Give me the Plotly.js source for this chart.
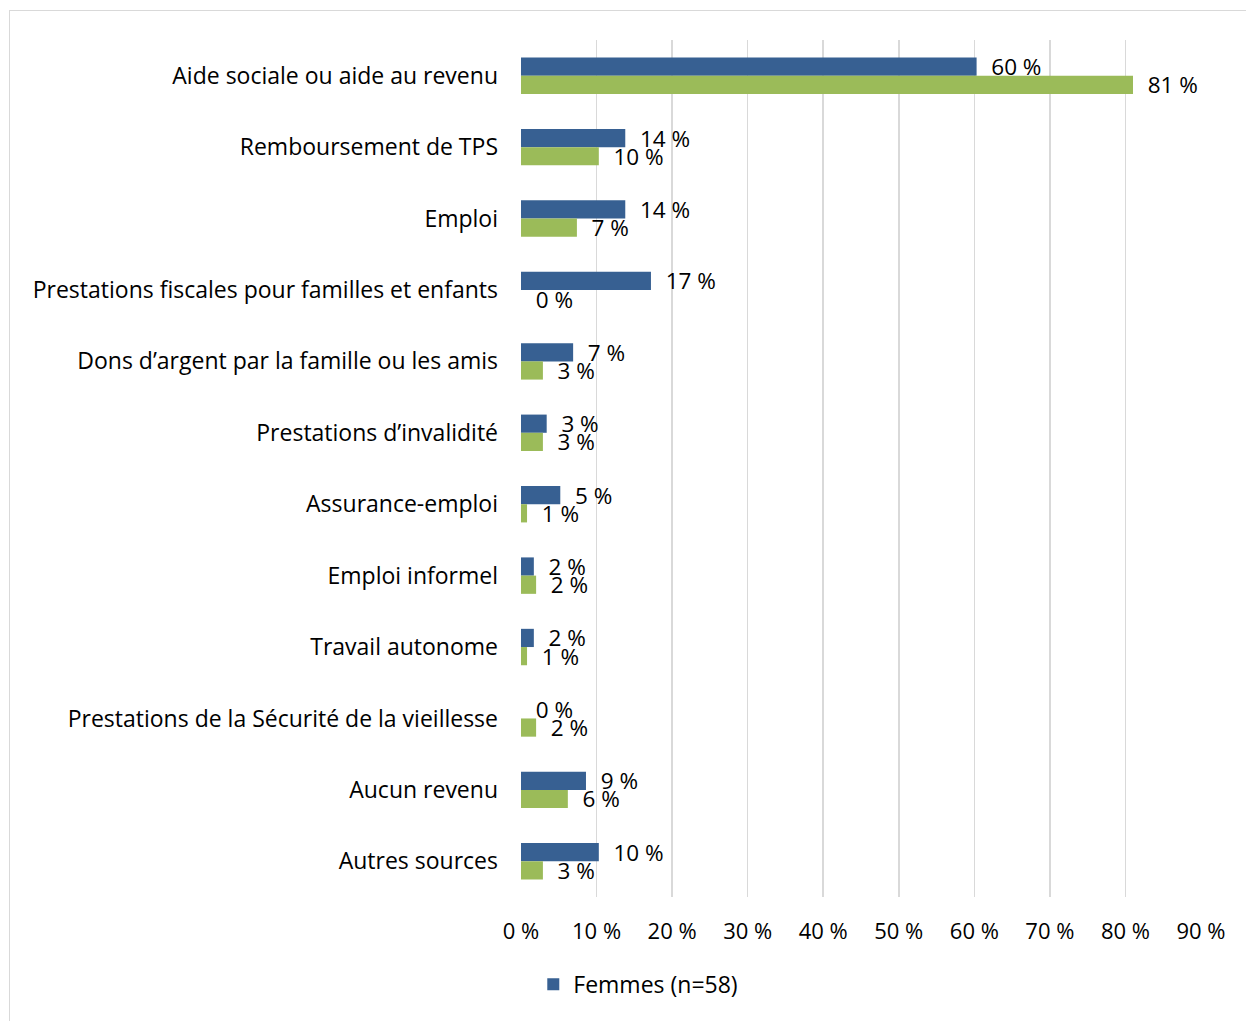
<!DOCTYPE html>
<html>
<head>
<meta charset="utf-8">
<script src="https://cdn.plot.ly/plotly-3.0.1.min.js"></script>
<style>
  html, body { margin: 0; padding: 0; background: #ffffff; }
  #frame { position: absolute; left: 9px; top: 10px; width: 1300px; height: 1100px; border: 1px solid #d9d9d9; }
  #chart { position: absolute; left: 0; top: 0; width: 1246px; height: 1021px; }
</style>
</head>
<body>
<div id="frame"></div>
<div id="chart"></div>
<script>
const categories = [
  "Aide sociale ou aide au revenu",
  "Remboursement de TPS",
  "Emploi",
  "Prestations fiscales pour familles et enfants",
  "Dons d’argent par la famille ou les amis",
  "Prestations d’invalidité",
  "Assurance-emploi",
  "Emploi informel",
  "Travail autonome",
  "Prestations de la Sécurité de la vieillesse",
  "Aucun revenu",
  "Autres sources"
];
const femmesValues = [60.3, 13.8, 13.8, 17.2, 6.9, 3.4, 5.2, 1.7, 1.7, 0, 8.6, 10.3];
const femmesLabels = ["60 %", "14 %", "14 %", "17 %", "7 %", "3 %", "5 %", "2 %", "2 %", "0 %", "9 %", "10 %"];
const greenValues = [81.0, 10.3, 7.4, 0, 2.9, 2.9, 0.8, 2.0, 0.8, 2.0, 6.2, 2.9];
const greenLabels = ["81 %", "10 %", "7 %", "0 %", "3 %", "3 %", "1 %", "2 %", "1 %", "2 %", "6 %", "3 %"];
const xTickVals = [0, 10, 20, 30, 40, 50, 60, 70, 80, 90];
const xTickText = ["0 %", "10 %", "20 %", "30 %", "40 %", "50 %", "60 %", "70 %", "80 %", "90 %"];

const FONT = "'Open Sans', sans-serif";

const traces = [
  {
    type: "bar", orientation: "h", name: "Femmes (n=58)",
    y: categories, x: femmesValues, text: femmesLabels,
    texttemplate: "\u00a0\u00a0%{text}", textposition: "outside", cliponaxis: false,
    constraintext: "none",
    textfont: { family: FONT, size: 22.5, color: "#000000" },
    marker: { color: "#376092" }, hoverinfo: "skip"
  },
  {
    type: "bar", orientation: "h", name: "Autre groupe", showlegend: false,
    y: categories, x: greenValues, text: greenLabels,
    texttemplate: "\u00a0\u00a0%{text}", textposition: "outside", cliponaxis: false,
    constraintext: "none",
    textfont: { family: FONT, size: 22.5, color: "#000000" },
    marker: { color: "#9BBB59" }, hoverinfo: "skip"
  }
];

const layout = {
  width: 1246, height: 1021,
  paper_bgcolor: "rgba(0,0,0,0)", plot_bgcolor: "rgba(0,0,0,0)",
  font: { family: FONT, size: 22, color: "#000000" },
  margin: { l: 521, r: 45, t: 40, b: 124, autoexpand: false },
  barmode: "group", bargap: 0.49, bargroupgap: 0,
  showlegend: true,
  legend: {
    orientation: "h", xref: "container", yref: "container",
    x: 0.428, xanchor: "left", y: 0.036, yanchor: "middle",
    font: { family: FONT, size: 23, color: "#000000" }, itemwidth: 30
  },
  xaxis: {
    range: [0, 90], tickvals: xTickVals, ticktext: xTickText,
    tickfont: { family: FONT, size: 22, color: "#000000" },
    showgrid: true, gridcolor: "#d9d9d9", gridwidth: 1.5,
    zeroline: false, showline: false, ticks: "",
    ticklabelstandoff: 19, fixedrange: true
  },
  yaxis: {
    type: "category", autorange: "reversed",
    tickfont: { family: FONT, size: 23, color: "#000000" },
    showgrid: false, zeroline: false, showline: false, ticks: "",
    ticklabelstandoff: 22, fixedrange: true
  }
};

Plotly.newPlot("chart", traces, layout, { staticPlot: true, displayModeBar: false });
</script>
</body>
</html>
